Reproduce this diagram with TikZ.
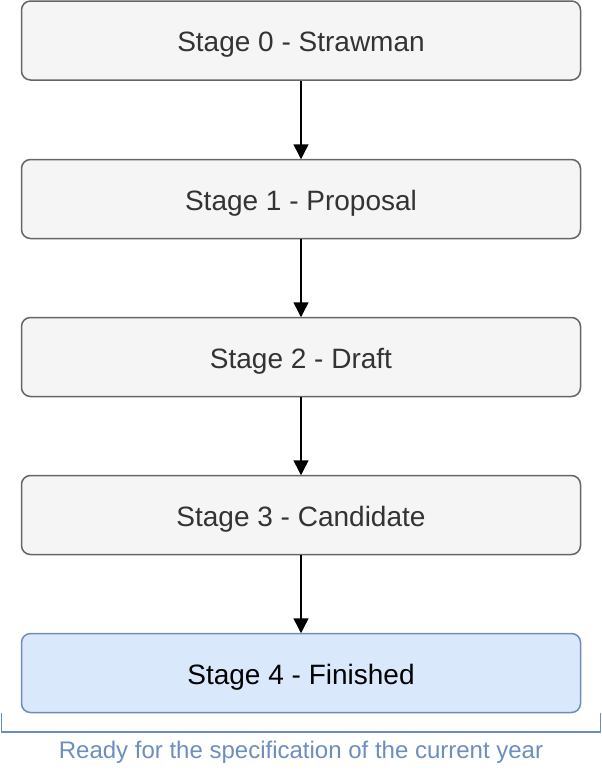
\documentclass[tikz,border=0pt]{standalone}
\usepackage{fontspec}
\setmainfont{Liberation Sans}
\usetikzlibrary{arrows.meta}
\definecolor{boxfill}{HTML}{F5F5F5}
\definecolor{boxline}{HTML}{666666}
\definecolor{boxtext}{HTML}{333333}
\definecolor{bluefill}{HTML}{DAE8FC}
\definecolor{blueline}{HTML}{6C8EBF}
\begin{document}
\begin{tikzpicture}[x=1pt,y=-1pt,
  stagebox/.style={draw=boxline, fill=boxfill, text=boxtext, line width=1.5pt,
    rounded corners=9pt, minimum width=559pt, minimum height=79pt, inner sep=0pt,
    text height=22pt, text depth=0pt,
    font=\fontsize{28}{31}\selectfont},
  finalbox/.style={stagebox, draw=blueline, fill=bluefill, text=black},
  flow/.style={-{Triangle[length=15pt,width=15pt]}, line width=1.5pt, black, shorten >=-0.5pt}]
\useasboundingbox (0,0) rectangle (602,774);
\node[stagebox] (s0) at (301,40.5) {Stage 0 - Strawman};
\node[stagebox] (s1) at (301,199) {Stage 1 - Proposal};
\node[stagebox] (s2) at (301,357) {Stage 2 - Draft};
\node[stagebox] (s3) at (301,515) {Stage 3 - Candidate};
\node[finalbox] (s4) at (301,673) {Stage 4 - Finished};
\draw[flow] (s0) -- (s1);
\draw[flow] (s1) -- (s2);
\draw[flow] (s2) -- (s3);
\draw[flow] (s3) -- (s4);
\coordinate (bl) at (1.5,713);
\coordinate (br) at (600.5,713);
\draw[blueline, line width=1.5pt] (bl) -- ++(0,19) -| (br);
\node[text=blueline, font=\fontsize{24}{27}\selectfont] (lbl) at (301,752) {Ready for the specification of the current year};
\end{tikzpicture}
\end{document}
